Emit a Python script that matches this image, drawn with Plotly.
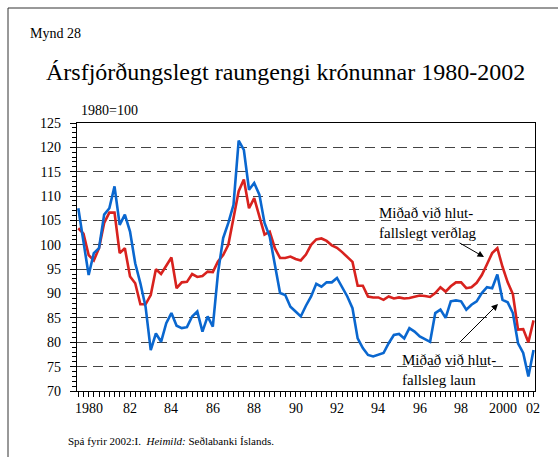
import plotly.graph_objects as go

# ---------------- data ----------------
years = list(range(1980, 2003))
quarters_per_year = 4
# quarterly observations 1980:I - 2002:I
quarter_labels = [f"{y}:{q}" for y in years for q in range(1, 5)][:89]

verdlag = [  # Miðað við hlutfallslegt verðlag (red)
    103.4, 102.3, 97.9, 96.8, 99.3, 104.5, 106.6, 106.6, 98.3, 99.3,
    93.5, 92.1, 87.8, 87.8, 89.7, 95.0, 94.0, 95.8, 97.4, 91.1,
    92.3, 92.4, 94.0, 93.4, 93.6, 94.5, 94.4, 96.6, 97.9, 100.0,
    105.8, 111.0, 113.4, 107.5, 109.6, 105.8, 102.1, 102.7, 99.3, 97.3,
    97.3, 97.6, 97.1, 96.8, 98.0, 100.0, 101.1, 101.3, 100.8, 99.9,
    99.4, 98.5, 97.5, 96.5, 91.6, 91.6, 89.4, 89.2, 89.2, 88.7,
    89.4, 89.0, 89.2, 89.0, 89.1, 89.3, 89.6, 89.5, 89.3, 90.1,
    91.3, 90.4, 91.5, 92.3, 92.3, 91.1, 91.3, 92.2, 93.8, 96.0,
    98.3, 99.3, 95.5, 92.3, 89.9, 82.6, 82.7, 80.0, 84.5,
]
laun = [  # Miðað við hlutfallsleg laun (blue)
    107.5, 100.8, 93.8, 98.3, 99.3, 106.2, 107.5, 112.0, 104.1, 106.2,
    102.7, 96.2, 92.1, 87.3, 78.4, 81.8, 80.1, 83.9, 86.0, 83.4,
    82.9, 83.1, 85.3, 86.3, 82.2, 85.3, 83.2, 94.2, 101.4, 104.5,
    108.2, 121.4, 119.5, 111.3, 112.7, 110.3, 104.5, 101.7, 95.5, 90.1,
    89.7, 87.3, 86.3, 85.3, 87.5, 89.4, 92.0, 91.4, 92.3, 92.3,
    93.2, 91.4, 89.4, 87.0, 80.8, 78.8, 77.4, 77.1, 77.4, 77.8,
    79.8, 81.5, 81.7, 80.8, 82.9, 82.2, 81.2, 80.6, 80.1, 86.0,
    86.7, 85.0, 88.4, 88.6, 88.4, 86.7, 87.7, 88.4, 90.1, 91.3,
    91.1, 93.9, 88.7, 88.2, 86.0, 79.8, 77.8, 73.0, 78.4,
]

x_tick_labels = ["1980", "82", "84", "86", "88", "90", "92", "94", "96", "98", "2000", "02"]
x_tick_years = [1980, 1982, 1984, 1986, 1988, 1990, 1992, 1994, 1996, 1998, 2000, 2002]
y_ticks = [70, 75, 80, 85, 90, 95, 100, 105, 110, 115, 120, 125]

# numeric position of each quarter
xq = [int(s.split(":")[0]) + (int(s.split(":")[1]) - 1) / quarters_per_year for s in quarter_labels]

# tick label positions: middle of year, last one at 2002:I
tick_pos = [y + 0.5 for y in x_tick_years[:-1]] + [x_tick_years[-1] - 0.03]

W, H = 558, 457
L, R, T, B = 77, 23, 123, 66
PW, PH = W - L - R, H - T - B


def px(xp):
    return (xp - L) / PW


def py(yp):
    return (H - B - yp) / PH


SERIF = "Liberation Serif, serif"
RED = "#d8221e"
BLUE = "#0a67cf"

fig = go.Figure()
fig.add_trace(go.Scatter(x=xq, y=verdlag, mode="lines", line=dict(color=RED, width=2.6),
                         name="Miðað við hlutfallslegt verðlag", hoverinfo="skip"))
fig.add_trace(go.Scatter(x=xq, y=laun, mode="lines", line=dict(color=BLUE, width=2.6),
                         name="Miðað við hlutfallsleg laun", hoverinfo="skip"))

fig.update_layout(
    width=W, height=H,
    margin=dict(l=L, r=R, t=T, b=B, pad=0),
    paper_bgcolor="white", plot_bgcolor="white",
    showlegend=False,
    font=dict(family=SERIF, size=14, color="black"),
    xaxis=dict(
        range=[1979.937, 2002.07],
        tickmode="array", tickvals=xq, ticktext=[""] * len(xq),
        ticks="outside", ticklen=5, tickwidth=1, tickcolor="black",
        showgrid=False, zeroline=False,
        showline=True, linecolor="black", linewidth=1.2, mirror=True,
    ),
    yaxis=dict(
        range=[70, 125],
        tickmode="array", tickvals=y_ticks,
        ticks="outside", ticklen=6, tickwidth=1, tickcolor="black",
        ticklabelstandoff=6,
        showgrid=True, gridcolor="#444444", gridwidth=1.3, griddash="10px,6px",
        zeroline=False,
        showline=True, linecolor="black", linewidth=1.2, mirror=True,
        minor=dict(tickvals=list(range(70, 126)), ticks="outside", ticklen=4,
                   tickcolor="black", showgrid=False),
        tickfont=dict(size=14, family=SERIF),
    ),
)

annotations = []
# x tick labels as text below the axis
for p, t in zip(tick_pos, x_tick_labels):
    annotations.append(dict(x=p, y=py(408), xref="x", yref="paper", text=t, showarrow=False,
                            xanchor="center", yanchor="middle", font=dict(size=14, family=SERIF)))

annotations += [
    dict(x=px(28), y=py(33), xref="paper", yref="paper", text="Mynd 28", showarrow=False,
         xanchor="left", yanchor="middle", font=dict(size=14, family=SERIF)),
    dict(x=px(44), y=py(72), xref="paper", yref="paper",
         text="Ársfjórðungslegt raungengi krónunnar 1980-2002", showarrow=False,
         xanchor="left", yanchor="middle", font=dict(size=24, family=SERIF)),
    dict(x=px(79), y=py(110), xref="paper", yref="paper", text="1980=100", showarrow=False,
         xanchor="left", yanchor="middle", font=dict(size=14, family=SERIF)),
    dict(x=px(66), y=py(441), xref="paper", yref="paper",
         text="Spá fyrir 2002:I.  <i>Heimild:</i> Seðlabanki Íslands.", showarrow=False,
         xanchor="left", yanchor="middle", font=dict(size=11, family=SERIF)),
    dict(x=px(377), y=py(223), xref="paper", yref="paper",
         text="Miðað við hlut-<br>fallslegt verðlag", showarrow=False, align="left",
         xanchor="left", yanchor="middle", font=dict(size=15, family=SERIF)),
    dict(x=px(400), y=py(370), xref="paper", yref="paper",
         text="Miðað við hlut-<br>fallsleg laun", showarrow=False, align="left",
         xanchor="left", yanchor="middle", font=dict(size=15, family=SERIF)),
    dict(x=px(484), y=py(257), xref="paper", yref="paper", text="", showarrow=True,
         ax=-26, ay=-15, arrowhead=2, arrowsize=1.3, arrowwidth=1, arrowcolor="black"),
    dict(x=px(498), y=py(304), xref="paper", yref="paper", text="", showarrow=True,
         ax=-40, ay=40, arrowhead=2, arrowsize=1.3, arrowwidth=1, arrowcolor="black"),
]
fig.update_layout(annotations=annotations)

# outer frame (left and top edges visible)
fig.add_shape(type="line", xref="paper", yref="paper", x0=px(8), x1=px(8), y0=py(8), y1=py(470),
              line=dict(color="#333333", width=1))
fig.add_shape(type="line", xref="paper", yref="paper", x0=px(8), x1=px(570), y0=py(8), y1=py(8),
              line=dict(color="#333333", width=1))

fig.write_html("out.html", config={"displayModeBar": False},
               post_script="document.body.style.margin='0';")
